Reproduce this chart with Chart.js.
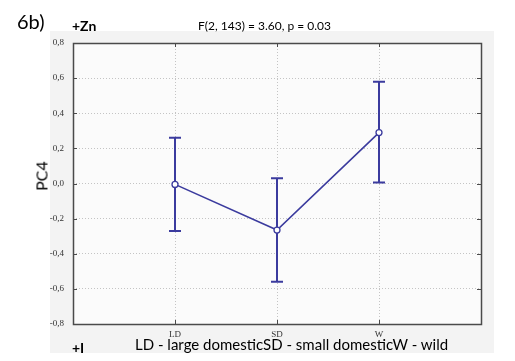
<!DOCTYPE html>
<html>
<head>
<meta charset="utf-8">
<script src="https://cdn.jsdelivr.net/npm/chart.js@4"></script>
<style>
  html, body { margin: 0; padding: 0; background: #ffffff; }
  #wrap { position: relative; width: 515px; height: 361px; }
  #panel { position: absolute; left: 50px; top: 31px; width: 444px; height: 322px; background: #f3f3f3; }
  canvas { position: absolute; left: 0; top: 0; }
  .t { position: absolute; white-space: nowrap; font-family: Lato, "Open Sans", sans-serif; color: #000; }
</style>
</head>
<body>
<div id="wrap">
  <div id="panel"></div>
  <canvas id="c" width="515" height="361"></canvas>
  <div class="t" style="left:17px; top:9px; font-size:20px;">6b)</div>
  <div class="t" style="left:72px; top:17px; font-size:14px; font-weight:bold;">+Zn</div>
  <div class="t" style="left:198px; top:18px; font-size:12px;">F(2, 143) = 3.60, p = 0.03</div>
  <div class="t" style="left:72px; top:339px; font-size:14px; font-weight:bold;">+I</div>
  <div class="t" style="left:135px; top:335px; font-size:15px;">LD - large domesticSD - small domesticW - wild</div>
  <div class="t" style="left:41px; top:176px; font-size:16px; transform: translate(-50%, -50%) rotate(-90deg); transform-origin: center;">PC4</div>
</div>
<script>
// Group categories and PC4 scores (mean with interval bounds)
const groups = ['LD', 'SD', 'W'];
const means = [-0.005, -0.265, 0.29];
const upper = [0.26, 0.03, 0.58];
const lower = [-0.27, -0.56, 0.005];
const yTicks = [-0.8, -0.6, -0.4, -0.2, 0.0, 0.2, 0.4, 0.6, 0.8];

const navy = '#3b3b9e';

// Frame around the plot area with short inward tick marks on every side
const framePlugin = {
  id: 'frame',
  afterDatasetsDraw(chart) {
    const { ctx, chartArea: a, scales } = chart;
    ctx.save();
    ctx.strokeStyle = '#4a4a4a';
    ctx.lineWidth = 1;
    ctx.beginPath();
    for (const v of yTicks) {
      const y = Math.round(scales.y.getPixelForValue(v)) + 0.5;
      ctx.moveTo(a.left, y); ctx.lineTo(a.left + 4, y);
      ctx.moveTo(a.right, y); ctx.lineTo(a.right - 4, y);
    }
    groups.forEach((g, i) => {
      const x = Math.round(scales.x.getPixelForValue(i + 1)) + 0.5;
      ctx.moveTo(x, a.top); ctx.lineTo(x, a.top + 4);
      ctx.moveTo(x, a.bottom); ctx.lineTo(x, a.bottom - 4);
    });
    ctx.stroke();
    ctx.lineWidth = 1.5;
    ctx.strokeRect(Math.round(a.left) + 0.5, Math.round(a.top) + 0.5,
                   Math.round(a.right - a.left), Math.round(a.bottom - a.top));
    ctx.restore();
  }
};

// Whiskers with caps from the interval bounds
const errorBarPlugin = {
  id: 'errorBars',
  beforeDatasetsDraw(chart) {
    const { ctx, scales } = chart;
    ctx.save();
    ctx.strokeStyle = navy;
    ctx.lineWidth = 2;
    groups.forEach((g, i) => {
      const x = scales.x.getPixelForValue(i + 1);
      const yu = scales.y.getPixelForValue(upper[i]);
      const yl = scales.y.getPixelForValue(lower[i]);
      ctx.beginPath();
      ctx.moveTo(x, yu); ctx.lineTo(x, yl);
      ctx.moveTo(x - 6, yu); ctx.lineTo(x + 6, yu);
      ctx.moveTo(x - 6, yl); ctx.lineTo(x + 6, yl);
      ctx.stroke();
    });
    ctx.restore();
  }
};

// Plot area background
const bgPlugin = {
  id: 'bg',
  beforeDraw(chart) {
    const { ctx, chartArea: a } = chart;
    ctx.save();
    ctx.fillStyle = '#fbfbfb';
    ctx.fillRect(a.left, a.top, a.right - a.left, a.bottom - a.top);
    ctx.restore();
  }
};

new Chart(document.getElementById('c'), {
  type: 'scatter',
  data: {
    datasets: [{
      data: groups.map((g, i) => ({ x: i + 1, y: means[i] })),
      showLine: true,
      borderColor: navy,
      borderWidth: 1.6,
      pointRadius: 3,
      pointBackgroundColor: '#ffffff',
      pointBorderColor: navy,
      pointBorderWidth: 1.3
    }]
  },
  options: {
    responsive: false,
    animation: false,
    layout: { padding: { left: 0, top: 43, right: 34, bottom: 0 } },
    plugins: { legend: { display: false }, tooltip: { enabled: false } },
    scales: {
      x: {
        type: 'linear', min: 0, max: 4,
        afterFit(s) { s.height = 37; },
        afterBuildTicks(s) { s.ticks = [0, 1, 2, 3, 4].map(v => ({ value: v })); },
        ticks: {
          callback: v => (v >= 1 && v <= 3) ? groups[v - 1] : '',
          font: { family: 'Liberation Sans Narrow', size: 9 },
          color: '#333', padding: 5, maxRotation: 0, autoSkip: false
        },
        grid: {
          color: ctx => (ctx.tick && ctx.tick.value >= 1 && ctx.tick.value <= 3) ? '#c4c4c4' : 'rgba(0,0,0,0)',
          drawTicks: false, tickLength: 0
        },
        border: { display: false, dash: [1, 2] }
      },
      y: {
        type: 'linear', min: -0.8, max: 0.8,
        afterFit(s) { s.width = 73; },
        afterBuildTicks(s) { s.ticks = yTicks.map(v => ({ value: v })); },
        ticks: {
          callback: v => v.toFixed(1).replace('.', ','),
          font: { family: 'Liberation Sans Narrow', size: 9 },
          color: '#333', padding: 9
        },
        grid: {
          color: ctx => (ctx.tick && Math.abs(ctx.tick.value) < 0.79) ? '#c4c4c4' : 'rgba(0,0,0,0)',
          drawTicks: false, tickLength: 0
        },
        border: { display: false, dash: [1, 2] }
      }
    }
  },
  plugins: [bgPlugin, errorBarPlugin, framePlugin]
});
</script>
</body>
</html>
